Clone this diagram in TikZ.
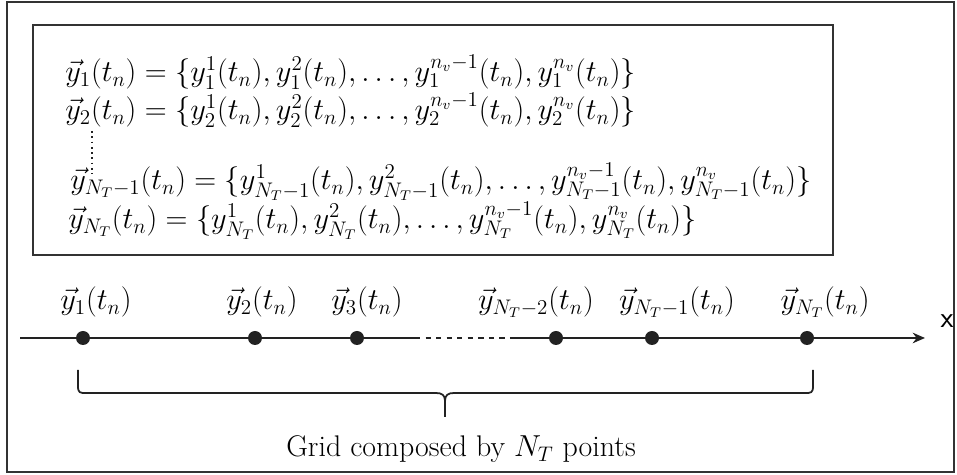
\documentclass[tikz,border=0pt]{standalone}
\usepackage{tikz}
\usetikzlibrary{positioning,arrows.meta}
\definecolor{ink}{HTML}{222222}
\definecolor{frameink}{HTML}{333333}

\tikzset{
  eqline/.style={anchor=base west,inner sep=0pt,font=\fontsize{17}{20}\selectfont},
  ptlabel/.style={anchor=base,inner sep=0pt,font=\fontsize{17}{20}\selectfont},
  gridpt/.style={circle,fill=ink,inner sep=0pt,minimum size=0.28cm},
  boxline/.style={draw=frameink,line width=0.8pt},
  axisline/.style={ink,line width=1.1pt},
}

\begin{document}
\begin{tikzpicture}[x=0.02cm,y=-0.02cm]
  \useasboundingbox (0,0) rectangle (957,475);
  % frames
  \draw[boxline] (7,2) rectangle (954,472);
  \draw[boxline] (33,25) rectangle (833,255);
  % the vectors at time t_n
  \node[eqline] (row1) at (65,82) {$\vec{y}_1(t_n)=\{y_1^1(t_n),y_1^2(t_n),\ldots,y_1^{n_v-1}(t_n),y_1^{n_v}(t_n)\}$};
  \node[eqline] (row2) at (65,120) {$\vec{y}_2(t_n)=\{y_2^1(t_n),y_2^2(t_n),\ldots,y_2^{n_v-1}(t_n),y_2^{n_v}(t_n)\}$};
  \node[eqline] (row4) at (70,190) {$\vec{y}_{N_T-1}(t_n)=\{y_{N_T-1}^1(t_n),y_{N_T-1}^2(t_n),\ldots,y_{N_T-1}^{n_v-1}(t_n),y_{N_T-1}^{n_v}(t_n)\}$};
  \node[eqline] (row5) at (68,229) {$\vec{y}_{N_T}(t_n)=\{y_{N_T}^1(t_n),y_{N_T}^2(t_n),\ldots,y_{N_T}^{n_v-1}(t_n),y_{N_T}^{n_v}(t_n)\}$};
  \coordinate (dtop) at (92,131);
  \coordinate (dbot) at (92,174);
  \draw[ink,dotted,line width=1pt] (dtop) -- (dbot);
  % x axis
  \coordinate (xstart) at (20,338);
  \coordinate (gapl) at (415,338);
  \coordinate (gapr) at (515,338);
  \coordinate (xend) at (925,338);
  \draw[axisline] (xstart) -- (gapl);
  \draw[axisline,dashed] (gapl) -- (gapr);
  \draw[axisline,-{Stealth[length=7pt,width=6pt]}] (gapr) -- (xend);
  \node[inner sep=0pt,font=\fontsize{17}{20}\selectfont\sffamily] (xlab) at (947,321) {x};
  \foreach \i/\px in {1/83,2/255,3/357,4/556,5/652,6/807}
    \node[gridpt] (p\i) at (\px,338) {};
  \node[ptlabel] (lab1) at (96,310) {$\vec{y}_1(t_n)$};
  \node[ptlabel] (lab2) at (262,310) {$\vec{y}_2(t_n)$};
  \node[ptlabel] (lab3) at (367,310) {$\vec{y}_3(t_n)$};
  \node[ptlabel] (lab4) at (536,310) {$\vec{y}_{N_T-2}(t_n)$};
  \node[ptlabel] (lab5) at (677,310) {$\vec{y}_{N_T-1}(t_n)$};
  \node[ptlabel] (lab6) at (825,310) {$\vec{y}_{N_T}(t_n)$};
  % brace under the grid
  \coordinate (bl) at (78,370);
  \coordinate (br) at (813,370);
  \coordinate (btip) at (445,417);
  \draw[ink,line width=1pt] (bl) -- (78,386) .. controls (78,393) and (80,393) .. (86,393)
    -- (436,393) .. controls (442,393) and (445,395) .. (445,401) -- (btip);
  \draw[ink,line width=1pt] (br) -- (813,386) .. controls (813,393) and (811,393) .. (805,393)
    -- (454,393) .. controls (448,393) and (445,395) .. (445,401);
  \node[anchor=base,font=\fontsize{17}{20}\selectfont] (caption) at (461,457) {Grid composed by $N_T$ points};
\end{tikzpicture}
\end{document}
